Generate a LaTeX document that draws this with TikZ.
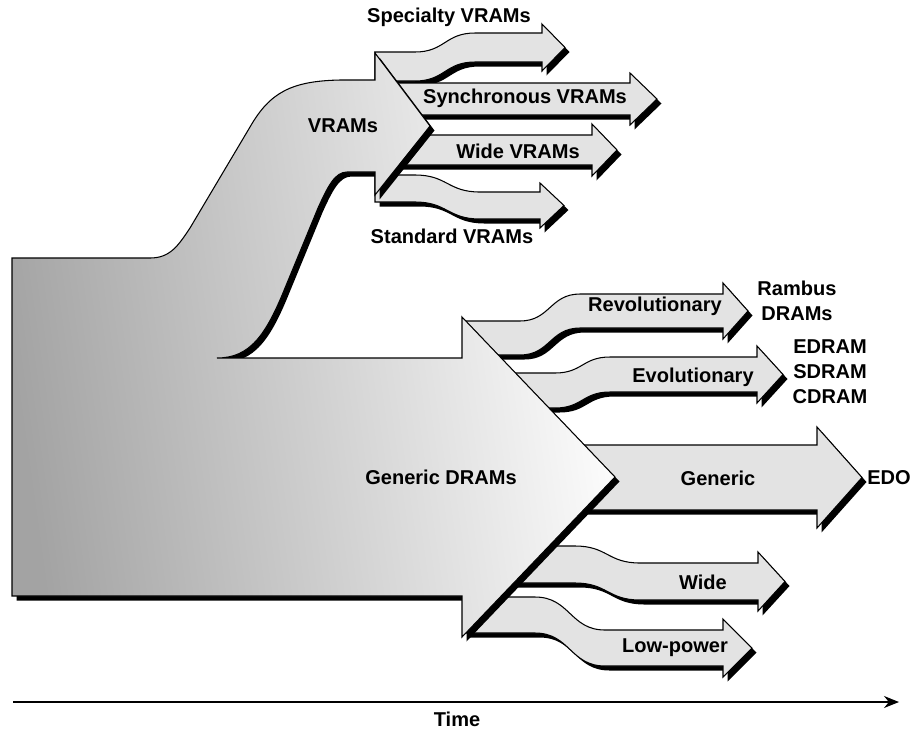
\documentclass[tikz,border=0pt]{standalone}
\usepackage{fontspec}
\setmainfont{Liberation Sans}
\usetikzlibrary{arrows.meta}
\usetikzlibrary{shadows}
\colorlet{branchbg}{black!11}
\colorlet{trunkbg}{black!36}
\newcommand{\lbl}{\fontsize{11.4}{14.2}\selectfont\bfseries}
\tikzset{
  shadowed/.style={drop shadow={shadow xshift=0.9mm,shadow yshift=-0.9mm,fill=black,opacity=1}},
  branch/.style={draw,line width=0.6pt,fill=branchbg,line join=miter,shadowed},
  trunk/.style={draw,line width=0.6pt,left color=trunkbg,right color=white,shading angle=98,shadowed},
  tag/.style={font=\lbl,inner sep=0pt,align=center}
}
% x0, xa, xb, xh, xt, yleft, yright, width, overhang
\newcommand{\branch}[9]{%
  \draw[branch] (#1,#6) -- (#2,#6)
    .. controls ({(#2+#3)/2},#6) and ({(#2+#3)/2},#7) .. (#3,#7)
    -- (#4,#7) -- (#4,{#7-#9}) -- (#5,{#7+#8/2}) -- (#4,{#7+#8+#9}) -- (#4,{#7+#8})
    -- (#3,{#7+#8})
    .. controls ({(#2+#3)/2},{#7+#8}) and ({(#2+#3)/2},{#6+#8}) .. (#2,{#6+#8})
    -- (#1,{#6+#8}) -- cycle;
}
\begin{document}
\begin{tikzpicture}[x=0.2mm,y=-0.2mm]
  \useasboundingbox (0,0) rectangle (913,732);
  % VRAM branches
  \branch{375}{415}{475}{542}{565}{52}{33}{29}{9}
  \branch{375}{400}{450}{630}{657}{83}{83}{32}{10}
  \branch{375}{400}{450}{592}{617}{135}{135}{30}{11}
  \branch{375}{415}{480}{540}{564}{175}{192}{27}{9}
  % DRAM branches
  \branch{465}{520}{580}{723}{748}{321}{294}{34}{11}
  \branch{465}{555}{610}{757}{783}{373}{357}{35}{11}
  \branch{560}{600}{650}{817}{862}{445}{445}{65}{18}
  \branch{465}{575}{640}{758}{785}{546}{563}{37}{11}
  \branch{465}{535}{605}{723}{752}{597}{630}{36}{11}
  % trunk
  \draw[trunk] (12,258) -- (150,258)
    .. controls (170,258) and (178,246) .. (190,228)
    -- (250,127) .. controls (270,92) and (292,81) .. (340,80)
    -- (375,80) -- (375,53) -- (430,126) -- (375,195) -- (375,172) -- (347,172)
    .. controls (335,172) and (328,186) .. (318,208)
    -- (285,288) .. controls (266,335) and (250,358) .. (217,358)
    -- (462,358) -- (462,317) -- (615,477) -- (462,637) -- (462,596) -- (12,596) -- cycle;

  \node[tag] (vram) at (343,126) {VRAMs};
  \node[tag] (dram) at (441,477) {Generic DRAMs};
  \node[tag] (specialty) at (449,17) {Specialty VRAMs};
  \node[tag] (sync) at (525,98) {Synchronous VRAMs};
  \node[tag] (widev) at (518,151) {Wide VRAMs};
  \node[tag] (standard) at (452,236) {Standard VRAMs};
  \node[tag] (revo) at (655,306) {Revolutionary};
  \node[tag] (evo) at (693,377) {Evolutionary};
  \node[tag] (generic) at (718,478) {Generic};
  \node[tag] (wide) at (703,582) {Wide};
  \node[tag] (lowpower) at (675,648) {Low-power};
  \node[tag] (rambus) at (797,301) {Rambus\\DRAMs};
  \node[tag] (edram) at (830,372) {EDRAM\\SDRAM\\CDRAM};
  \node[tag,anchor=west] (edo) at (867,478) {EDO};

  \coordinate (t0) at (13,702);
  \coordinate (t1) at (899,702);
  \draw[line width=0.7pt,-{Stealth[length=3mm,width=2.4mm]}] (t0) -- (t1);
  \node[tag] (time) at (457,719) {Time};
\end{tikzpicture}
\end{document}
